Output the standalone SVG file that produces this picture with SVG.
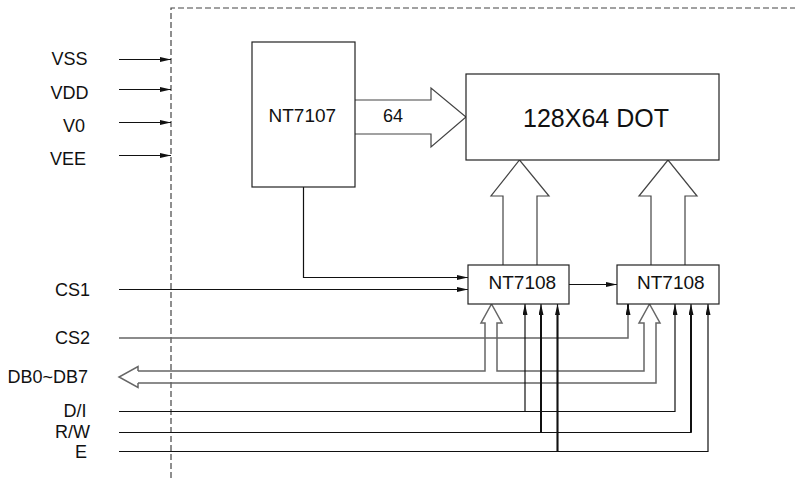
<svg xmlns="http://www.w3.org/2000/svg" width="795" height="478" viewBox="0 0 795 478">
<style>
text{font-family:"Liberation Sans",Arial,sans-serif;fill:#111}
.lbl{font-size:18px}
.chip{font-size:19px}
.box{fill:#fff;stroke:#222;stroke-width:1.2}
.ln{fill:none;stroke:#111;stroke-width:1.2}
.gl{fill:none;stroke:#666;stroke-width:1.5}
.th{fill:none;stroke:#111;stroke-width:2}
.hol{fill:#fff;stroke:#444;stroke-width:1.2;stroke-linejoin:miter}
.dash{fill:none;stroke:#444;stroke-width:1.2;stroke-dasharray:6,3}
</style>
<defs>
<marker id="ah" viewBox="0 0 11 5" refX="11" refY="2.5" markerWidth="11" markerHeight="5" markerUnits="userSpaceOnUse" orient="auto">
<path d="M0,0 L11,2.5 L0,5 z" fill="#111"/>
</marker>
</defs>
<path class="dash" d="M171,478 V8 H795"/>
<g id="signals">
<text class="lbl" x="51.5" y="65">VSS</text>
<text class="lbl" x="50.5" y="99">VDD</text>
<text class="lbl" x="63" y="131.5">V0</text>
<text class="lbl" x="50" y="164.5">VEE</text>
<text class="lbl" x="55" y="296">CS1</text>
<text class="lbl" x="55" y="344">CS2</text>
<text class="lbl" x="7.5" y="382.5">DB0~DB7</text>
<text class="lbl" x="63.5" y="417">D/I</text>
<text class="lbl" x="55" y="438">R/W</text>
<text class="lbl" x="75" y="458">E</text>
</g>
<g id="connectors">
<path class="ln" d="M119,59.5 H171" marker-end="url(#ah)"/>
<path class="ln" d="M119,89.5 H171" marker-end="url(#ah)"/>
<path class="ln" d="M119,122.5 H171" marker-end="url(#ah)"/>
<path class="ln" d="M119,155.5 H171" marker-end="url(#ah)"/>
<path class="hol" d="M355,100 H431 V88 L466,117 L431,147 V134 H355"/>
<path class="hol" d="M503,265 V196 H491 L519.5,160 L549,196 H537 V265"/>
<path class="hol" d="M651,265 V196 H639 L668,160 L697,196 H685 V265"/>
<path class="ln" d="M569,284.5 H617" marker-end="url(#ah)"/>
<path class="ln" d="M303.5,187 V277.5 H468" marker-end="url(#ah)"/>
<path class="ln" d="M119,289.5 H468" marker-end="url(#ah)"/>
<path class="gl" d="M119,338 H628 V305"/>
<path class="th" d="M628,310 V304" marker-end="url(#ah)"/>
<path class="gl" d="M138,371 H485 V323 H481 L491.5,304 L502,323 H497 V371 H644 V323 H639 L649.5,304 L660,323 H656 V383 H138"/>
<path class="gl" d="M138,371 V366.5 L119,377 L138,387.5 V383"/>
<path class="ln" d="M119,411.5 H675 V304" marker-end="url(#ah)"/>
<path class="ln" d="M525,411.5 V304" marker-end="url(#ah)"/>
<path class="ln" d="M119,432.5 H691 V304" marker-end="url(#ah)"/>
<path class="th" d="M691,432.5 V310"/>
<path class="th" d="M541,432.5 V310"/>
<path class="ln" d="M541,432.5 V304" marker-end="url(#ah)"/>
<path class="ln" d="M119,451.5 H708 V304" marker-end="url(#ah)"/>
<path class="th" d="M557.5,451.5 V310"/>
<path class="ln" d="M557.5,451.5 V304" marker-end="url(#ah)"/>
</g>
<g id="nt7107">
<rect class="box" x="252" y="42" width="103" height="145"/>
<text class="chip" x="268.5" y="121.5">NT7107</text>
</g>
<text class="lbl" x="383" y="121.5">64</text>
<g id="dot">
<rect class="box" x="466" y="74" width="253" height="86"/>
<text x="523" y="126.5" style="font-size:25px">128X64 DOT</text>
</g>
<g id="nt7108a">
<rect class="box" x="468" y="265" width="101" height="39"/>
<text class="chip" x="488.5" y="289">NT7108</text>
</g>
<g id="nt7108b">
<rect class="box" x="617" y="265" width="102" height="39"/>
<text class="chip" x="637" y="289">NT7108</text>
</g>
</svg>
